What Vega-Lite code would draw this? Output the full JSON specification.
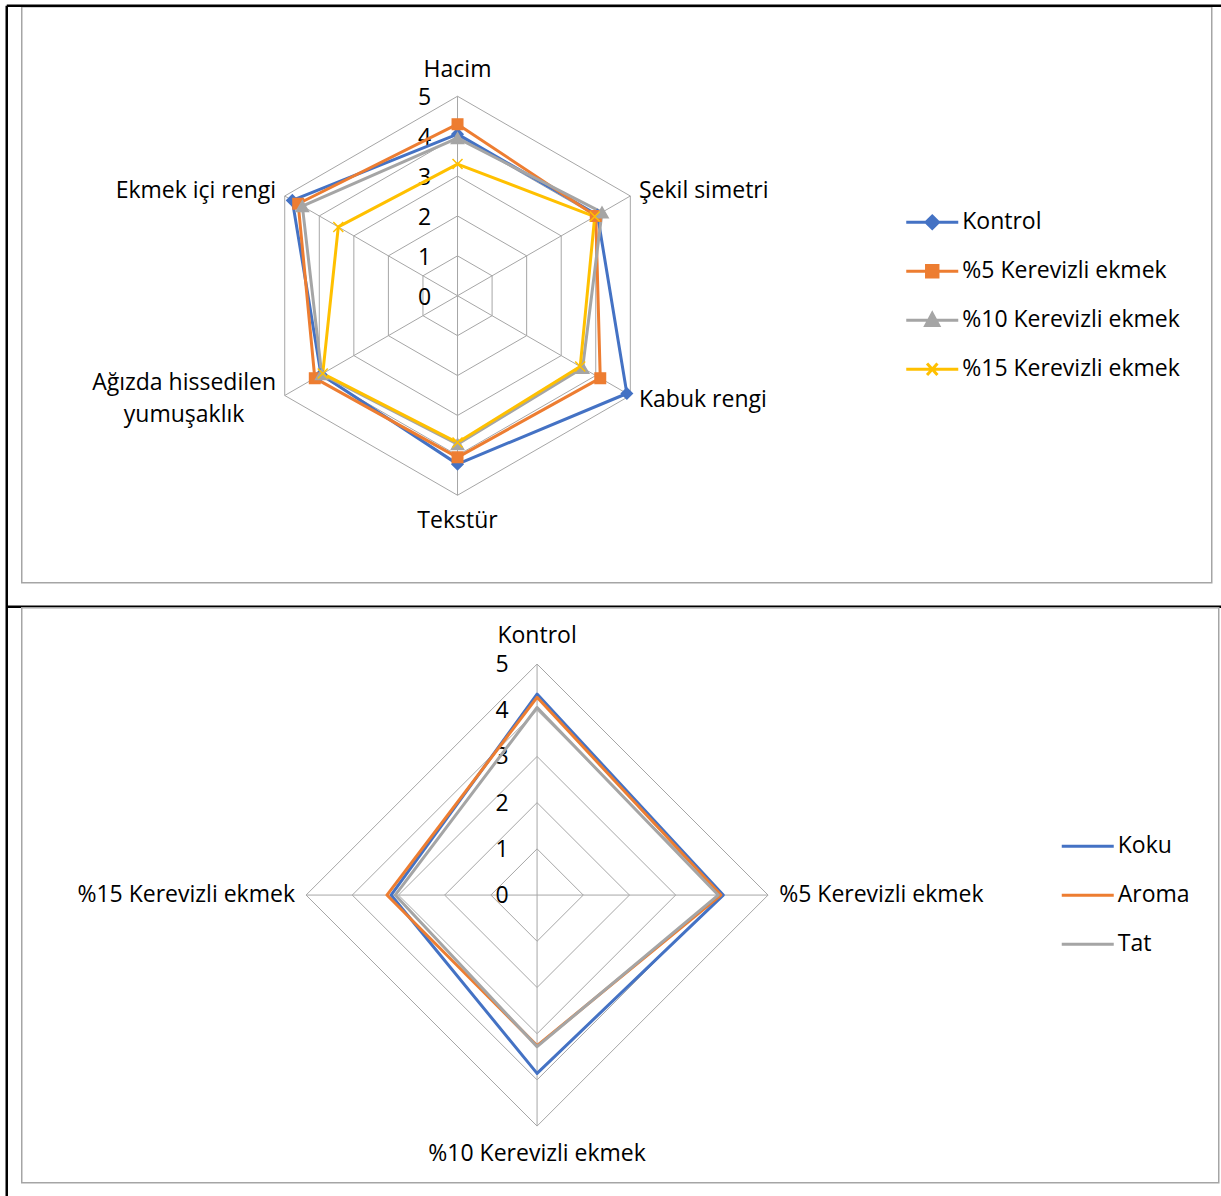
{
  "$schema": "https://vega.github.io/schema/vega-lite/v6.json",
  "background": "white",
  "padding": {"left": 3.75, "top": 3.75, "right": 0, "bottom": 0},
  "bounds": "flush",
  "spacing": 25,
  "config": {
    "view": {"stroke": "#A5A5A5", "strokeWidth": 1.5},
    "text": {"font": "Open Sans", "fontSize": 23, "color": "#000000"}
  },
  "datasets": {
    "sens": [
      {"attr": "Hacim", "idx": 0, "series": "Kontrol", "value": 4.05},
      {"attr": "Şekil simetri", "idx": 1, "series": "Kontrol", "value": 4.05},
      {"attr": "Kabuk rengi", "idx": 2, "series": "Kontrol", "value": 4.9},
      {"attr": "Tekstür", "idx": 3, "series": "Kontrol", "value": 4.22},
      {"attr": "Ağızda hissedilen yumuşaklık", "idx": 4, "series": "Kontrol", "value": 3.95},
      {"attr": "Ekmek içi rengi", "idx": 5, "series": "Kontrol", "value": 4.78},
      {"attr": "Hacim", "idx": 0, "series": "%5 Kerevizli ekmek", "value": 4.3},
      {"attr": "Şekil simetri", "idx": 1, "series": "%5 Kerevizli ekmek", "value": 4.0},
      {"attr": "Kabuk rengi", "idx": 2, "series": "%5 Kerevizli ekmek", "value": 4.13},
      {"attr": "Tekstür", "idx": 3, "series": "%5 Kerevizli ekmek", "value": 4.05},
      {"attr": "Ağızda hissedilen yumuşaklık", "idx": 4, "series": "%5 Kerevizli ekmek", "value": 4.13},
      {"attr": "Ekmek içi rengi", "idx": 5, "series": "%5 Kerevizli ekmek", "value": 4.61},
      {"attr": "Hacim", "idx": 0, "series": "%10 Kerevizli ekmek", "value": 3.95},
      {"attr": "Şekil simetri", "idx": 1, "series": "%10 Kerevizli ekmek", "value": 4.18},
      {"attr": "Kabuk rengi", "idx": 2, "series": "%10 Kerevizli ekmek", "value": 3.62},
      {"attr": "Tekstür", "idx": 3, "series": "%10 Kerevizli ekmek", "value": 3.72},
      {"attr": "Ağızda hissedilen yumuşaklık", "idx": 4, "series": "%10 Kerevizli ekmek", "value": 3.93},
      {"attr": "Ekmek içi rengi", "idx": 5, "series": "%10 Kerevizli ekmek", "value": 4.49},
      {"attr": "Hacim", "idx": 0, "series": "%15 Kerevizli ekmek", "value": 3.3},
      {"attr": "Şekil simetri", "idx": 1, "series": "%15 Kerevizli ekmek", "value": 3.97},
      {"attr": "Kabuk rengi", "idx": 2, "series": "%15 Kerevizli ekmek", "value": 3.55},
      {"attr": "Tekstür", "idx": 3, "series": "%15 Kerevizli ekmek", "value": 3.68},
      {"attr": "Ağızda hissedilen yumuşaklık", "idx": 4, "series": "%15 Kerevizli ekmek", "value": 3.9},
      {"attr": "Ekmek içi rengi", "idx": 5, "series": "%15 Kerevizli ekmek", "value": 3.45}
    ],
    "aro": [
      {"attr": "Kontrol", "idx": 0, "series": "Koku", "value": 4.35},
      {"attr": "%5 Kerevizli ekmek", "idx": 1, "series": "Koku", "value": 4.03},
      {"attr": "%10 Kerevizli ekmek", "idx": 2, "series": "Koku", "value": 3.86},
      {"attr": "%15 Kerevizli ekmek", "idx": 3, "series": "Koku", "value": 3.16},
      {"attr": "Kontrol", "idx": 0, "series": "Aroma", "value": 4.28},
      {"attr": "%5 Kerevizli ekmek", "idx": 1, "series": "Aroma", "value": 3.98},
      {"attr": "%10 Kerevizli ekmek", "idx": 2, "series": "Aroma", "value": 3.26},
      {"attr": "%15 Kerevizli ekmek", "idx": 3, "series": "Aroma", "value": 3.25},
      {"attr": "Kontrol", "idx": 0, "series": "Tat", "value": 4.06},
      {"attr": "%5 Kerevizli ekmek", "idx": 1, "series": "Tat", "value": 3.92},
      {"attr": "%10 Kerevizli ekmek", "idx": 2, "series": "Tat", "value": 3.28},
      {"attr": "%15 Kerevizli ekmek", "idx": 3, "series": "Tat", "value": 3.07}
    ],
    "grid6": [
      {"idx": 0, "level": 1}, {"idx": 1, "level": 1}, {"idx": 2, "level": 1}, {"idx": 3, "level": 1}, {"idx": 4, "level": 1}, {"idx": 5, "level": 1},
      {"idx": 0, "level": 2}, {"idx": 1, "level": 2}, {"idx": 2, "level": 2}, {"idx": 3, "level": 2}, {"idx": 4, "level": 2}, {"idx": 5, "level": 2},
      {"idx": 0, "level": 3}, {"idx": 1, "level": 3}, {"idx": 2, "level": 3}, {"idx": 3, "level": 3}, {"idx": 4, "level": 3}, {"idx": 5, "level": 3},
      {"idx": 0, "level": 4}, {"idx": 1, "level": 4}, {"idx": 2, "level": 4}, {"idx": 3, "level": 4}, {"idx": 4, "level": 4}, {"idx": 5, "level": 4},
      {"idx": 0, "level": 5}, {"idx": 1, "level": 5}, {"idx": 2, "level": 5}, {"idx": 3, "level": 5}, {"idx": 4, "level": 5}, {"idx": 5, "level": 5}
    ],
    "grid4": [
      {"idx": 0, "level": 1}, {"idx": 1, "level": 1}, {"idx": 2, "level": 1}, {"idx": 3, "level": 1},
      {"idx": 0, "level": 2}, {"idx": 1, "level": 2}, {"idx": 2, "level": 2}, {"idx": 3, "level": 2},
      {"idx": 0, "level": 3}, {"idx": 1, "level": 3}, {"idx": 2, "level": 3}, {"idx": 3, "level": 3},
      {"idx": 0, "level": 4}, {"idx": 1, "level": 4}, {"idx": 2, "level": 4}, {"idx": 3, "level": 4},
      {"idx": 0, "level": 5}, {"idx": 1, "level": 5}, {"idx": 2, "level": 5}, {"idx": 3, "level": 5}
    ],
    "ticks": [{"t": 0}, {"t": 1}, {"t": 2}, {"t": 3}, {"t": 4}, {"t": 5}],
    "lab6": [
      {"idx": 0, "label": "Hacim"},
      {"idx": 1, "label": "Şekil simetri"},
      {"idx": 2, "label": "Kabuk rengi"},
      {"idx": 3, "label": "Tekstür"},
      {"idx": 4, "label": "Ağızda hissedilen\nyumuşaklık"},
      {"idx": 5, "label": "Ekmek içi rengi"}
    ],
    "lab4": [
      {"idx": 0, "label": "Kontrol"},
      {"idx": 1, "label": "%5 Kerevizli ekmek"},
      {"idx": 2, "label": "%10 Kerevizli ekmek"},
      {"idx": 3, "label": "%15 Kerevizli ekmek"}
    ],
    "frame": [{"k": 1}]
  },
  "resolve": {"scale": {"x": "independent", "y": "independent", "color": "independent"}},
  "vconcat": [
    {
      "width": 1190,
      "height": 576,
      "encoding": {
        "x": {"field": "px", "type": "quantitative", "scale": {"domain": [-10.92, 18.9], "nice": false, "zero": false}, "axis": null},
        "y": {"field": "py", "type": "quantitative", "scale": {"domain": [-7.193, 7.243], "nice": false, "zero": false}, "axis": null}
      },
      "layer": [
        {
          "data": {"name": "frame"},
          "transform": [{"calculate": "-11.296", "as": "px"}, {"calculate": "7.268", "as": "py"}, {"calculate": "-22.6", "as": "py2"}],
          "mark": {"type": "rule", "stroke": "#000000", "strokeWidth": 2.5},
          "encoding": {"y2": {"field": "py2"}}
        },
        {
          "data": {"name": "frame"},
          "transform": [{"calculate": "-11.296", "as": "px"}, {"calculate": "19.2", "as": "px2"}, {"calculate": "7.268", "as": "py"}],
          "mark": {"type": "rule", "stroke": "#000000", "strokeWidth": 2.5},
          "encoding": {"x2": {"field": "px2"}}
        },
        {
          "data": {"name": "frame"},
          "transform": [{"calculate": "-11.296", "as": "px"}, {"calculate": "19.2", "as": "px2"}, {"calculate": "-7.794", "as": "py"}],
          "mark": {"type": "rule", "stroke": "#000000", "strokeWidth": 2.5},
          "encoding": {"x2": {"field": "px2"}}
        },
        {
          "data": {"name": "grid6"},
          "transform": [
            {"calculate": "datum.idx * PI / 3", "as": "ang"},
            {"calculate": "datum.level * sin(datum.ang)", "as": "px"},
            {"calculate": "datum.level * cos(datum.ang)", "as": "py"}
          ],
          "mark": {"type": "line", "interpolate": "linear-closed", "stroke": "#A6A6A6", "strokeWidth": 1},
          "encoding": {"detail": {"field": "level", "type": "nominal"}, "order": {"field": "idx", "type": "quantitative"}}
        },
        {
          "data": {"name": "grid6"},
          "transform": [
            {"filter": "datum.level == 5"},
            {"calculate": "datum.idx * PI / 3", "as": "ang"},
            {"calculate": "datum.level * sin(datum.ang)", "as": "px"},
            {"calculate": "datum.level * cos(datum.ang)", "as": "py"}
          ],
          "mark": {"type": "rule", "stroke": "#A6A6A6", "strokeWidth": 1},
          "encoding": {"x2": {"datum": 0}, "y2": {"datum": 0}}
        },
        {
          "data": {"name": "ticks"},
          "transform": [
            {"calculate": "0", "as": "px"},
            {"calculate": "datum.t", "as": "py"}
          ],
          "mark": {"type": "text", "align": "center", "baseline": "middle", "dx": -33, "dy": 2},
          "encoding": {"text": {"field": "t", "type": "quantitative"}}
        },
        {
          "data": {"name": "sens"},
          "transform": [
            {"calculate": "datum.idx * PI / 3", "as": "ang"},
            {"calculate": "datum.value * sin(datum.ang)", "as": "px"},
            {"calculate": "datum.value * cos(datum.ang)", "as": "py"}
          ],
          "mark": {"type": "line", "interpolate": "linear-closed", "strokeWidth": 3, "strokeJoin": "round"},
          "encoding": {
            "order": {"field": "idx", "type": "quantitative"},
            "color": {
              "field": "series", "type": "nominal",
              "scale": {"domain": ["Kontrol", "%5 Kerevizli ekmek", "%10 Kerevizli ekmek", "%15 Kerevizli ekmek"], "range": ["#4472C4", "#ED7D31", "#A5A5A5", "#FFC000"]},
              "legend": {
                "orient": "none", "legendX": 883, "legendY": 188, "title": null, "padding": 0,
                "symbolSize": 2704, "symbolStrokeWidth": 3, "labelFont": "Open Sans", "labelFontSize": 23, "labelColor": "#000000",
                "labelOffset": 2.5, "rowPadding": 9, "labelLimit": 400,
                "encode": {
                  "symbols": {
                    "update": {
                      "shape": {"signal": "datum.value === 'Kontrol' ? 'M-1,0H1M0,-0.24L0.24,0L0,0.24L-0.24,0Z' : datum.value === '%5 Kerevizli ekmek' ? 'M-1,0H1M-0.22,-0.22H0.22V0.22H-0.22Z' : datum.value === '%10 Kerevizli ekmek' ? 'M-1,0H1M0,-0.26L0.25,0.2H-0.25Z' : 'M-1,0H1M-0.2,-0.22L0.2,0.22M-0.2,0.22L0.2,-0.22'"},
                      "fill": {"signal": "datum.value === 'Kontrol' ? '#4472C4' : datum.value === '%5 Kerevizli ekmek' ? '#ED7D31' : datum.value === '%10 Kerevizli ekmek' ? '#A5A5A5' : '#FFC000'"},
                      "stroke": {"signal": "datum.value === 'Kontrol' ? '#4472C4' : datum.value === '%5 Kerevizli ekmek' ? '#ED7D31' : datum.value === '%10 Kerevizli ekmek' ? '#A5A5A5' : '#FFC000'"}
                    }
                  }
                }
              }
            }
          }
        },
        {
          "data": {"name": "sens"},
          "transform": [
            {"calculate": "datum.idx * PI / 3", "as": "ang"},
            {"calculate": "datum.value * sin(datum.ang)", "as": "px"},
            {"calculate": "datum.value * cos(datum.ang)", "as": "py"}
          ],
          "layer": [
            {"transform": [{"filter": "datum.series === 'Kontrol'"}], "mark": {"type": "point", "shape": "diamond", "filled": true, "size": 120, "color": "#4472C4", "stroke": "#4472C4", "strokeWidth": 1.5, "opacity": 1}},
            {"transform": [{"filter": "datum.series === '%5 Kerevizli ekmek'"}], "mark": {"type": "point", "shape": "square", "filled": true, "size": 110, "color": "#ED7D31", "stroke": "#ED7D31", "strokeWidth": 1.5, "opacity": 1}},
            {"transform": [{"filter": "datum.series === '%10 Kerevizli ekmek'"}], "mark": {"type": "point", "shape": "triangle-up", "filled": true, "size": 150, "color": "#A5A5A5", "stroke": "#A5A5A5", "strokeWidth": 1.5, "opacity": 1}},
            {"transform": [{"filter": "datum.series === '%15 Kerevizli ekmek'"}], "mark": {"type": "point", "shape": "M-1,-1L1,1M-1,1L1,-1", "filled": false, "size": 100, "color": "#FFC000", "stroke": "#FFC000", "strokeWidth": 1.5, "opacity": 1}}
          ]
        },
        {
          "data": {"name": "lab6"},
          "transform": [
            {"calculate": "datum.idx * PI / 3", "as": "ang"},
            {"calculate": "abs(sin(datum.ang)) < 0.1 ? 5.65 : 5.25", "as": "rr"},
            {"calculate": "datum.rr * sin(datum.ang)", "as": "px"},
            {"calculate": "datum.rr * cos(datum.ang)", "as": "py"}
          ],
          "encoding": {"text": {"field": "label", "type": "nominal"}},
          "layer": [
            {"transform": [{"filter": "abs(sin(datum.ang)) < 0.1"}], "mark": {"type": "text", "align": "center", "baseline": "middle"}},
            {"transform": [{"filter": "sin(datum.ang) > 0.1"}], "mark": {"type": "text", "align": "left", "baseline": "middle"}},
            {"transform": [{"filter": "sin(datum.ang) < -0.1 && datum.idx != 4"}], "mark": {"type": "text", "align": "right", "baseline": "middle"}},
            {"transform": [{"filter": "datum.idx == 4"}], "mark": {"type": "text", "align": "center", "baseline": "middle", "dx": -92, "dy": -17, "lineBreak": "\n", "lineHeight": 32}}
          ]
        }
      ]
    },
    {
      "width": 1197,
      "height": 575,
      "encoding": {
        "x": {"field": "px", "type": "quantitative", "scale": {"domain": [-11.154, 14.755], "nice": false, "zero": false}, "axis": null},
        "y": {"field": "py", "type": "quantitative", "scale": {"domain": [-6.227, 6.219], "nice": false, "zero": false}, "axis": null}
      },
      "layer": [
        {
          "data": {"name": "grid4"},
          "transform": [
            {"calculate": "datum.idx * PI / 2", "as": "ang"},
            {"calculate": "datum.level * sin(datum.ang)", "as": "px"},
            {"calculate": "datum.level * cos(datum.ang)", "as": "py"}
          ],
          "mark": {"type": "line", "interpolate": "linear-closed", "stroke": "#A6A6A6", "strokeWidth": 1},
          "encoding": {"detail": {"field": "level", "type": "nominal"}, "order": {"field": "idx", "type": "quantitative"}}
        },
        {
          "data": {"name": "grid4"},
          "transform": [
            {"filter": "datum.level == 5"},
            {"calculate": "datum.idx * PI / 2", "as": "ang"},
            {"calculate": "datum.level * sin(datum.ang)", "as": "px"},
            {"calculate": "datum.level * cos(datum.ang)", "as": "py"}
          ],
          "mark": {"type": "rule", "stroke": "#A6A6A6", "strokeWidth": 1},
          "encoding": {"x2": {"datum": 0}, "y2": {"datum": 0}}
        },
        {
          "data": {"name": "ticks"},
          "transform": [
            {"calculate": "0", "as": "px"},
            {"calculate": "datum.t", "as": "py"}
          ],
          "mark": {"type": "text", "align": "center", "baseline": "middle", "dx": -35, "dy": 1},
          "encoding": {"text": {"field": "t", "type": "quantitative"}}
        },
        {
          "data": {"name": "aro"},
          "transform": [
            {"calculate": "datum.idx * PI / 2", "as": "ang"},
            {"calculate": "datum.value * sin(datum.ang)", "as": "px"},
            {"calculate": "datum.value * cos(datum.ang)", "as": "py"}
          ],
          "mark": {"type": "line", "interpolate": "linear-closed", "strokeWidth": 3, "strokeJoin": "round"},
          "encoding": {
            "order": {"field": "idx", "type": "quantitative"},
            "color": {
              "field": "series", "type": "nominal",
              "scale": {"domain": ["Koku", "Aroma", "Tat"], "range": ["#4472C4", "#ED7D31", "#A5A5A5"]},
              "legend": {
                "orient": "none", "legendX": 1038.5, "legendY": 211, "title": null, "padding": 0,
                "symbolType": "stroke", "symbolSize": 2704, "symbolStrokeWidth": 3, "labelFont": "Open Sans", "labelFontSize": 23, "labelColor": "#000000",
                "labelOffset": 2.5, "rowPadding": 9
              }
            }
          }
        },
        {
          "data": {"name": "lab4"},
          "transform": [
            {"calculate": "datum.idx * PI / 2", "as": "ang"},
            {"calculate": "abs(sin(datum.ang)) < 0.1 ? 5.6 : 5.24", "as": "rr"},
            {"calculate": "datum.rr * sin(datum.ang)", "as": "px"},
            {"calculate": "datum.rr * cos(datum.ang)", "as": "py"}
          ],
          "encoding": {"text": {"field": "label", "type": "nominal"}},
          "layer": [
            {"transform": [{"filter": "abs(sin(datum.ang)) < 0.1"}], "mark": {"type": "text", "align": "center", "baseline": "middle"}},
            {"transform": [{"filter": "sin(datum.ang) > 0.1"}], "mark": {"type": "text", "align": "left", "baseline": "middle"}},
            {"transform": [{"filter": "sin(datum.ang) < -0.1"}], "mark": {"type": "text", "align": "right", "baseline": "middle"}}
          ]
        }
      ]
    }
  ]
}
